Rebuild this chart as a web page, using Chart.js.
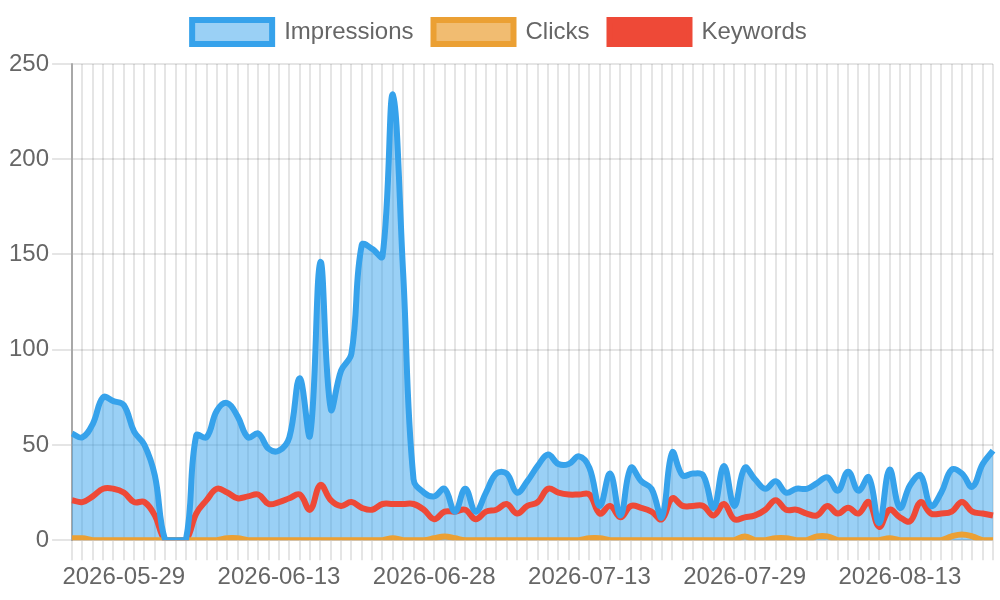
<!DOCTYPE html>
<html>
<head>
<meta charset="utf-8">
<script src="https://cdn.jsdelivr.net/npm/chart.js@4.4.1/dist/chart.umd.min.js"></script>
<style>
  html, body { margin: 0; padding: 0; background: #fff; }
  #wrap { width: 1000px; height: 600px; }
</style>
</head>
<body>
<div id="wrap"><canvas id="c" width="1000" height="600"></canvas></div>
<script>
const dates = [
  '2026-05-24','2026-05-25','2026-05-26','2026-05-27','2026-05-28','2026-05-29','2026-05-30','2026-05-31',
  '2026-06-01','2026-06-02','2026-06-03','2026-06-04','2026-06-05','2026-06-06','2026-06-07','2026-06-08',
  '2026-06-09','2026-06-10','2026-06-11','2026-06-12','2026-06-13','2026-06-14','2026-06-15','2026-06-16',
  '2026-06-17','2026-06-18','2026-06-19','2026-06-20','2026-06-21','2026-06-22','2026-06-23','2026-06-24',
  '2026-06-25','2026-06-26','2026-06-27','2026-06-28','2026-06-29','2026-06-30',
  '2026-07-01','2026-07-02','2026-07-03','2026-07-04','2026-07-05','2026-07-06','2026-07-07','2026-07-08',
  '2026-07-09','2026-07-10','2026-07-11','2026-07-12','2026-07-13','2026-07-14','2026-07-15','2026-07-16',
  '2026-07-17','2026-07-18','2026-07-19','2026-07-21','2026-07-22','2026-07-23','2026-07-24','2026-07-25',
  '2026-07-26','2026-07-27','2026-07-28','2026-07-29','2026-07-30','2026-07-31',
  '2026-08-01','2026-08-02','2026-08-03','2026-08-04','2026-08-05','2026-08-06','2026-08-07','2026-08-08',
  '2026-08-09','2026-08-10','2026-08-11','2026-08-12','2026-08-13','2026-08-14','2026-08-15','2026-08-16',
  '2026-08-17','2026-08-18','2026-08-19','2026-08-20','2026-08-21','2026-08-22'
];

const shownTickLabels = ['2026-05-29','2026-06-13','2026-06-28','2026-07-13','2026-07-29','2026-08-13'];

const impressions = [
  56, 54, 61, 75, 73, 71, 57, 50, 34, 0,
  0, 0, 55, 54, 68, 72, 65, 54, 56, 48,
  47, 54, 85, 55, 146, 69, 89, 98, 155, 153,
  149, 234, 140, 32, 25, 23, 27, 15, 27, 15,
  25, 35, 35, 25, 31, 39, 45, 40, 40, 44,
  38, 18, 35, 13, 38, 31, 27, 12, 46, 34,
  35, 34, 17, 39, 18, 38, 32, 27, 31, 25,
  27, 27, 30, 33, 26, 36, 26, 33, 9, 37,
  17, 29, 34, 18, 25, 37, 35, 28, 40, 47
];

const clicks = [
  1, 1, 0, 0, 0, 0, 0, 0, 0, 0,
  0, 0, 0, 0, 0, 1, 1, 0, 0, 0,
  0, 0, 0, 0, 0, 0, 0, 0, 0, 0,
  0, 1, 0, 0, 0, 1, 2, 1, 0, 0,
  0, 0, 0, 0, 0, 0, 0, 0, 0, 0,
  1, 1, 0, 0, 0, 0, 0, 0, 0, 0,
  0, 0, 0, 0, 0, 2, 0, 0, 1, 1,
  0, 0, 2, 2, 0, 0, 0, 0, 0, 1,
  0, 0, 0, 0, 0, 2, 3, 2, 0, 0
];

const keywords = [
  21, 20, 23, 27, 27, 25, 20, 20, 13, 0,
  0, 0, 14, 21, 27, 25, 22, 23, 24, 19,
  20, 22, 24, 16, 29, 21, 18, 20, 17, 16,
  19, 19, 19, 19, 16, 11, 15, 15, 16, 11,
  15, 16, 19, 14, 18, 20, 27, 25, 24, 24,
  24, 14, 18, 12, 18, 17, 15, 11, 22, 18,
  18, 18, 13, 19, 11, 12, 13, 16, 21, 16,
  16, 14, 13, 18, 14, 17, 14, 20, 7, 16,
  12, 10, 20, 14, 14, 15, 20, 15, 14, 13
];

const blue = 'rgb(54, 162, 235)';
const blueFill = 'rgba(54, 162, 235, 0.5)';
const orange = 'rgb(235, 160, 52)';
const orangeFill = 'rgba(235, 160, 52, 0.7)';
const red = 'rgb(238, 73, 55)';

Chart.defaults.font.family = "'Liberation Sans', Arial, Helvetica, sans-serif";
Chart.defaults.font.size = 24;
Chart.defaults.color = '#666';

const legendGap = {
  id: 'legendGap',
  beforeInit(chart) {
    const origFit = chart.legend.fit;
    chart.legend.fit = function () {
      origFit.call(this);
      this.height += 10;
    };
  }
};

new Chart(document.getElementById('c'), {
  type: 'line',
  data: {
    labels: dates,
    datasets: [
      { label: 'Impressions', data: impressions, borderColor: blue, backgroundColor: blueFill, fill: 'origin', borderWidth: 6 },
      { label: 'Clicks', data: clicks, borderColor: orange, backgroundColor: orangeFill, fill: false, borderWidth: 6 },
      { label: 'Keywords', data: keywords, borderColor: red, backgroundColor: red, fill: false, borderWidth: 6 }
    ]
  },
  plugins: [legendGap],
  options: {
    responsive: false,
    animation: false,
    devicePixelRatio: 1,
    layout: { padding: { left: 6, right: 7, bottom: 5 } },
    elements: {
      point: { radius: 0, hoverRadius: 0 },
      line: { tension: 0.4 }
    },
    plugins: {
      filler: { drawTime: 'beforeDatasetsDraw' },
      tooltip: { enabled: false },
      legend: {
        labels: { boxWidth: 80, boxHeight: 24, padding: 20, font: { size: 24 } }
      }
    },
    scales: {
      x: {
        border: { color: 'rgba(0,0,0,0.1)', width: 2 },
        grid: { color: 'rgba(0,0,0,0.1)', lineWidth: 2, tickLength: 20 },
        ticks: {
          autoSkip: false,
          maxRotation: 0,
          minRotation: 0,
          font: { size: 24 },
          callback: function (value, index) {
            const lbl = this.getLabelForValue(value);
            return shownTickLabels.includes(lbl) ? lbl : '';
          }
        }
      },
      y: {
        min: 0,
        max: 250,
        border: { color: 'rgba(0,0,0,0.27)', width: 2 },
        grid: { color: 'rgba(0,0,0,0.1)', lineWidth: 2, tickLength: 20 },
        ticks: { stepSize: 50, font: { size: 24 } }
      }
    }
  }
});
</script>
</body>
</html>
